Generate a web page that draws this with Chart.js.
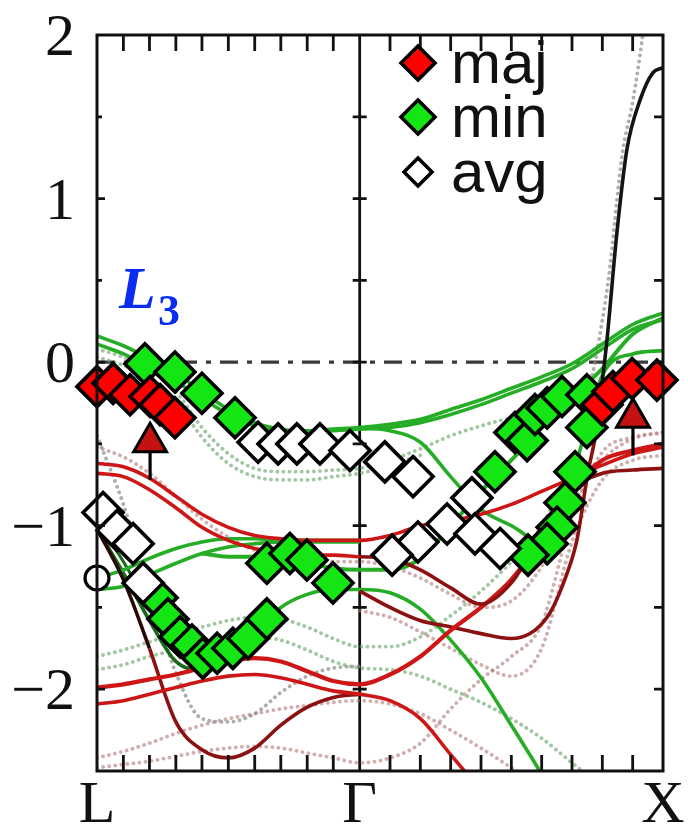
<!DOCTYPE html>
<html>
<head>
<meta charset="utf-8">
<script src="https://cdn.jsdelivr.net/npm/chart.js@4.4.1/dist/chart.umd.min.js"></script>
<style>
  html, body { margin: 0; padding: 0; background: #fff; }
  canvas { display: block; }
</style>
</head>
<body>
<canvas id="bands" width="688" height="828"></canvas>
<script>
// Path through the zone: L -> Γ -> X (distances in units of 2π/a)
const symLabels = ['L', 'Γ', 'X'];
const symK = [0, 0.866, 1.866];
const yTicks = [2, 1, 0, -1, -2];
const yTickLabels = ['2', '1', '0', '\u22121', '\u22122'];

// sampling points along the path (ten steps per segment)
const kPath = [0, 0.087, 0.173, 0.260, 0.346, 0.433, 0.520, 0.606, 0.693, 0.779, 0.866,
               0.966, 1.066, 1.166, 1.266, 1.366, 1.466, 1.566, 1.666, 1.766, 1.866];

// minority-spin bands (eV)
const minUpper1 = [0.16, 0.10, 0.02, -0.07, -0.18, -0.29, -0.37, -0.41, -0.42, -0.41, -0.40, -0.38, -0.35, -0.29, -0.23, -0.16, -0.09, -0.01, 0.11, 0.23, 0.30];
const minUpper2 = [0.11, 0.05, -0.03, -0.12, -0.22, -0.32, -0.39, -0.42, -0.43, -0.42, -0.41, -0.40, -0.37, -0.32, -0.26, -0.19, -0.12, -0.04, 0.08, 0.20, 0.26];
const minDrop   = [null, null, null, null, null, null, null, null, null, null, -0.40, -0.42, -0.49, -0.70, -0.90, -1.00, -1.10, -0.70, -0.08, 0.05, 0.07];
const minLow    = [-1.02, -1.29, -1.58, -1.83, -1.88, -1.80, -1.66, -1.50, -1.42, -1.39, -1.39, -1.41, -1.51, -1.70, -1.93, -2.22, -2.52, -2.85];
const minLowPair = [-0.98, -1.22, -1.50, -1.76, -1.86, -1.80];
const minRise1  = [-1.39, -1.37, -1.30, -1.23, -1.17, -1.13, -1.11, -1.10, -1.10, -1.10, -1.10];
const minRise2  = [-1.32, -1.27, -1.20, -1.14, -1.10, -1.08, -1.08, -1.09, -1.09, -1.09, -1.09];
const minMid    = [null, null, null, null, -1.17, -1.19, -1.19, -1.20, -1.23, -1.26, -1.27, -1.27, -1.20, -1.00, -0.79, -0.60, -0.40, -0.22, -0.04, 0.17, 0.27];

// majority-spin bands (eV)
const majUpper1 = [-0.62, -0.64, -0.71, -0.82, -0.93, -1.01, -1.06, -1.08, -1.09, -1.09, -1.09, -1.06, -1.00, -0.97, -0.93, -0.87, -0.79, -0.71, -0.63, -0.56, -0.52];
const majUpper2 = [-0.68, -0.70, -0.78, -0.89, -1.01, -1.09, -1.14, -1.17, -1.18, -1.18, -1.19, -1.20, -1.27, -1.38, -1.48, -1.35, -1.05, -0.78, -0.68, -0.66, -0.65];
const majMid    = [-1.99, -1.97, -1.94, -1.91, -1.87, -1.83, -1.81, -1.83, -1.89, -1.95, -1.97, -1.91, -1.80, -1.64, -1.50, -1.33, -1.08, -0.77, -0.60, -0.54, -0.50];
const majLow    = [-2.09, -2.07, -2.03, -1.99, -1.95, -1.92, -1.91, -1.93, -1.97, -2.01, -2.03, -2.07, -2.18, -2.40, -2.62];
const majDip    = [-1.02, -1.33, -1.75, -2.20, -2.37, -2.42, -2.36, -2.22, -2.11, -2.05, -2.03];
const majSteepK = [0.866, 0.966, 1.065, 1.167, 1.266, 1.365, 1.484, 1.550, 1.582, 1.619, 1.642, 1.665, 1.681, 1.714, 1.747, 1.790, 1.833, 1.866];
const majSteepE = [-1.40, -1.50, -1.58, -1.62, -1.66, -1.69, -1.56, -1.29, -1.09, -0.67, -0.46, -0.13, 0.13, 0.79, 1.30, 1.60, 1.77, 1.80];

// reference calculation, drawn dotted (eV)
const dotMinUpper1 = [0.08, 0.03, -0.05, -0.18, -0.40, -0.56, -0.65, -0.67, -0.67, -0.66, -0.65, -0.60, -0.53, -0.45, -0.39, -0.34, -0.30, -0.20];
const dotMinUpper2 = [0.03, -0.02, -0.10, -0.24, -0.46, -0.62, -0.70, -0.72, -0.72, -0.70, -0.68, -0.63, -0.57];
const dotSteepK = [1.566, 1.625, 1.668, 1.691, 1.714, 1.734, 1.767, 1.797, 1.815];
const dotSteepE = [-0.20, -0.12, 0.28, 0.58, 0.99, 1.30, 1.60, 1.97, 2.25];
const dotMinDeep = [-0.45, -0.87, -1.40, -1.90, -2.18, -2.20, -2.15, -2.02, -1.92, -1.87, -1.86];
const dotMinLow1 = [-1.80, -1.76, -1.71, -1.66, -1.62, -1.58, -1.56, -1.57, -1.62, -1.69, -1.74, -1.74, -1.68, -1.55, -1.40, -1.22, -1.00, -0.62];
const dotMinLow2 = [-1.88, -1.85, -1.80, -1.76, -1.72, -1.69, -1.68, -1.70, -1.76, -1.83, -1.87, -1.88, -1.92, -2.00, -2.08, -2.18, -2.30, -2.45, -2.60];
const dotMajUpper = [-0.52, -0.58, -0.68, -0.82, -0.96, -1.07, -1.15, -1.19, -1.21, -1.22, -1.22, -1.25, -1.32, -1.42, -1.50, -1.46, -1.25, -0.88, -0.60, -0.47, -0.43];
const dotMajMid  = [null, null, null, null, null, null, null, null, null, null, -1.52, -1.56, -1.65, -1.75, -1.85, -1.92, -1.75, -1.10, -0.72, -0.60, -0.57];
const dotMajLow1 = [-2.42, -2.38, -2.33, -2.27, -2.22, -2.18, -2.15, -2.12, -2.10, -2.08, -2.07, -2.09, -2.15, -2.25, -2.36, -2.48, -2.60];
const dotMajLow2 = [-2.48, -2.46, -2.44, -2.41, -2.38, -2.36, -2.35, -2.36, -2.39, -2.42, -2.45, -2.42, -2.33, -2.12, -1.94, -1.80, -1.60, -0.95, -0.55, -0.46, -0.43];

// quasiparticle peaks
const majK = [0.0, 0.053, 0.109, 0.175, 0.208, 0.257, 1.665, 1.701, 1.764, 1.846];
const majE = [-0.15, -0.13, -0.20, -0.21, -0.26, -0.34, -0.26, -0.18, -0.10, -0.11];
const minK = [0.158, 0.257, 0.346, 0.455,
              0.198, 0.234, 0.274, 0.313, 0.349, 0.396, 0.448, 0.498, 0.560,
              0.560, 0.636, 0.692, 0.778,
              1.312, 1.378, 1.418, 1.444, 1.484, 1.533, 1.615, 1.615, 1.576, 1.543, 1.517, 1.484, 1.421];
const minE = [-0.01, -0.06, -0.19, -0.34,
              -1.44, -1.57, -1.68, -1.73, -1.81, -1.78, -1.75, -1.69, -1.57,
              -1.23, -1.17, -1.21, -1.35,
              -0.67, -0.43, -0.48, -0.32, -0.28, -0.21, -0.20, -0.40, -0.67, -0.86, -1.01, -1.11, -1.18];
const avgK = [0.020, 0.066, 0.119, 0.152, 0.531, 0.597, 0.659, 0.735, 0.834, 0.949, 1.042,
              1.236, 1.154, 1.058, 0.973, 1.246, 1.329];
const avgE = [-0.92, -1.03, -1.11, -1.35, -0.49, -0.50, -0.50, -0.50, -0.54, -0.61, -0.70,
              -0.83, -0.99, -1.10, -1.18, -1.05, -1.14];

// L-point state and the shifted peaks
const circleK = [0];
const circleE = [-1.32];
const shiftK = [0.175, 1.767];
const shiftE = [-0.49, -0.34];
const shiftTailE = [-0.72, -0.57];
const shiftHeadE = [-0.545, -0.39];

const GREEN = '#26ad26';
const GREEN_DARK = '#1c6a1c';
const RED = '#cf1616';
const RED_DARK = '#8c1111';
const DOT_G = 'rgba(105,165,105,0.62)';
const DOT_R = 'rgba(176,118,118,0.58)';
const DOT_GRAY = 'rgba(135,135,135,0.68)';

function pts(ks, vs) {
  const out = [];
  vs.forEach((v, i) => { if (v !== null && v !== undefined) out.push({ x: ks[i], y: v }); });
  return out;
}
function solid(vs, color, width, extra, ks) {
  return Object.assign({
    data: pts(ks || kPath, vs), borderColor: color, borderWidth: width,
    pointRadius: 0, cubicInterpolationMode: 'monotone', fill: false, order: 2
  }, extra || {});
}
function dotted(vs, color, ks) {
  return {
    data: pts(ks || kPath, vs), borderColor: color, borderWidth: 3.8,
    borderDash: [0.1, 6], borderCapStyle: 'round', pointRadius: 0,
    cubicInterpolationMode: 'monotone', fill: false, order: 3
  };
}
function markers(ks, vs, fill, style, radius, extra) {
  return Object.assign({
    data: pts(ks, vs), showLine: false, pointStyle: style, pointRadius: radius,
    pointBackgroundColor: fill, pointBorderColor: '#000', pointBorderWidth: 3.6,
    clip: false, order: 0
  }, extra || {});
}

const LW = 3.6;
const datasets = [
  // dotted reference bands
  dotted(dotMinUpper1, DOT_G), dotted(dotMinUpper2, DOT_G),
  dotted(dotSteepE, DOT_GRAY, dotSteepK), dotted(dotMinDeep, DOT_GRAY),
  dotted(dotMinLow1, DOT_G), dotted(dotMinLow2, DOT_G),
  dotted(dotMajUpper, DOT_R), dotted(dotMajMid, DOT_R),
  dotted(dotMajLow1, DOT_R), dotted(dotMajLow2, DOT_R),
  // majority-spin bands
  solid(majUpper1, RED, LW),
  solid(majUpper2, RED, LW, { segment: { borderColor: c => c.p0.parsed.x >= 0.866 ? RED_DARK : RED } }),
  solid(majMid, RED, 4.2),
  solid(majLow, RED, LW),
  solid(majDip, RED_DARK, LW, { segment: { borderColor: c => c.p0.parsed.x < 0.09 ? '#2a0808' : RED_DARK } }),
  solid(majSteepE, RED_DARK, LW, { segment: { borderColor: c => c.p0.parsed.y > -0.3 ? '#141414' : RED_DARK } }, majSteepK),
  // minority-spin bands
  solid(minRise1, GREEN, LW), solid(minRise2, GREEN, LW),
  solid(minLow, GREEN, LW, { segment: { borderColor: c => c.p0.parsed.x < 0.34 ? GREEN_DARK : GREEN } }),
  solid(minLowPair, GREEN_DARK, 3),
  solid(minMid, GREEN, 4),
  solid(minDrop, GREEN, LW),
  solid(minUpper1, GREEN, LW), solid(minUpper2, GREEN, LW),
  // peaks
  markers(majK, majE, '#ff0000', 'rectRot', 20),
  markers(avgK, avgE, '#ffffff', 'rectRot', 20),
  markers(minK, minE, '#14e614', 'rectRot', 20),
  markers(circleK, circleE, '#ffffff', 'circle', 12, { pointBorderWidth: 3.2 }),
  // shifts of the L and X peaks
  solid([shiftTailE[0], shiftHeadE[0]], '#000', 3.2, { order: 1, cubicInterpolationMode: 'default' }, [shiftK[0], shiftK[0]]),
  solid([shiftTailE[1], shiftHeadE[1]], '#000', 3.2, { order: 1, cubicInterpolationMode: 'default' }, [shiftK[1], shiftK[1]]),
  markers(shiftK, shiftE, '#c41212', 'triangle', 19, { pointBorderWidth: 3 })
];

const frame = {
  id: 'frame',
  beforeDatasetsDraw(chart) {
    const { ctx, chartArea: a, scales: { x, y } } = chart;
    ctx.save();
    const y0 = y.getPixelForValue(0);
    ctx.strokeStyle = '#3a3a3a';
    ctx.lineWidth = 3.4;
    ctx.setLineDash([18, 9, 5, 9]);
    ctx.beginPath(); ctx.moveTo(a.left, y0); ctx.lineTo(a.right, y0); ctx.stroke();
    ctx.setLineDash([]);
    const xg = x.getPixelForValue(symK[1]);
    ctx.strokeStyle = '#111';
    ctx.lineWidth = 2.8;
    ctx.beginPath(); ctx.moveTo(xg, a.top); ctx.lineTo(xg, a.bottom); ctx.stroke();
    ctx.restore();
  },
  afterDatasetsDraw(chart) {
    const { ctx, chartArea: a, scales: { x, y } } = chart;
    ctx.save();
    ctx.strokeStyle = '#111';
    ctx.lineWidth = 3;
    ctx.strokeRect(a.left, a.top, a.right - a.left, a.bottom - a.top);

    ctx.lineWidth = 2.8;
    ctx.beginPath();
    kPath.forEach((k, i) => {
      if (i % 10 === 0) return;
      const px = x.getPixelForValue(k);
      ctx.moveTo(px, a.top); ctx.lineTo(px, a.top + 16);
      ctx.moveTo(px, a.bottom); ctx.lineTo(px, a.bottom - 16);
    });
    const xg = x.getPixelForValue(symK[1]);
    for (let v = -2; v <= 1.5; v += 0.5) {
      const py = y.getPixelForValue(v);
      const major = Number.isInteger(v);
      ctx.moveTo(a.left, py); ctx.lineTo(a.left + (major ? 8 : 5), py);
      ctx.moveTo(a.right, py); ctx.lineTo(a.right - 9, py);
      ctx.moveTo(xg - 7, py); ctx.lineTo(xg + 7, py);
    }
    ctx.stroke();

    // axis labels
    ctx.fillStyle = '#111';
    ctx.font = '60px "Liberation Serif", "Times New Roman", serif';
    ctx.textAlign = 'right';
    ctx.textBaseline = 'alphabetic';
    yTicks.forEach((v, i) => ctx.fillText(yTickLabels[i], 75, y.getPixelForValue(v) + 20));
    ctx.textAlign = 'center';
    symK.forEach((k, i) => ctx.fillText(symLabels[i], x.getPixelForValue(k), 822));

    // legend
    const entries = [['maj', '#ff0000', 63, 17], ['min', '#14e614', 117, 17], ['avg', '#ffffff', 172, 14]];
    ctx.textAlign = 'left';
    ctx.font = '60px "Liberation Sans", Arial, sans-serif';
    entries.forEach(([name, fill, cy, r]) => {
      const cx = 418;
      ctx.beginPath();
      ctx.moveTo(cx - r, cy); ctx.lineTo(cx, cy - r); ctx.lineTo(cx + r, cy); ctx.lineTo(cx, cy + r);
      ctx.closePath();
      ctx.fillStyle = fill; ctx.fill();
      ctx.lineWidth = 3.6; ctx.strokeStyle = '#000'; ctx.stroke();
      ctx.fillStyle = '#111';
      ctx.fillText(name, 451, cy + 20);
    });

    // L3 state label
    ctx.fillStyle = '#0a2bf0';
    ctx.font = 'italic bold 60px "Liberation Serif", serif';
    ctx.fillText('L', 119, 308);
    ctx.font = 'bold 44px "Liberation Serif", serif';
    ctx.fillText('3', 158, 325);
    ctx.restore();
  }
};

new Chart(document.getElementById('bands'), {
  type: 'line',
  data: { datasets },
  options: {
    responsive: false,
    animation: false,
    events: [],
    layout: { padding: { left: 97, right: 25, top: 35, bottom: 57 } },
    scales: {
      x: { type: 'linear', min: symK[0], max: symK[2], display: false },
      y: { type: 'linear', min: -2.5, max: 2, display: false }
    },
    plugins: { legend: { display: false }, tooltip: { enabled: false } }
  },
  plugins: [frame]
});
</script>
</body>
</html>
